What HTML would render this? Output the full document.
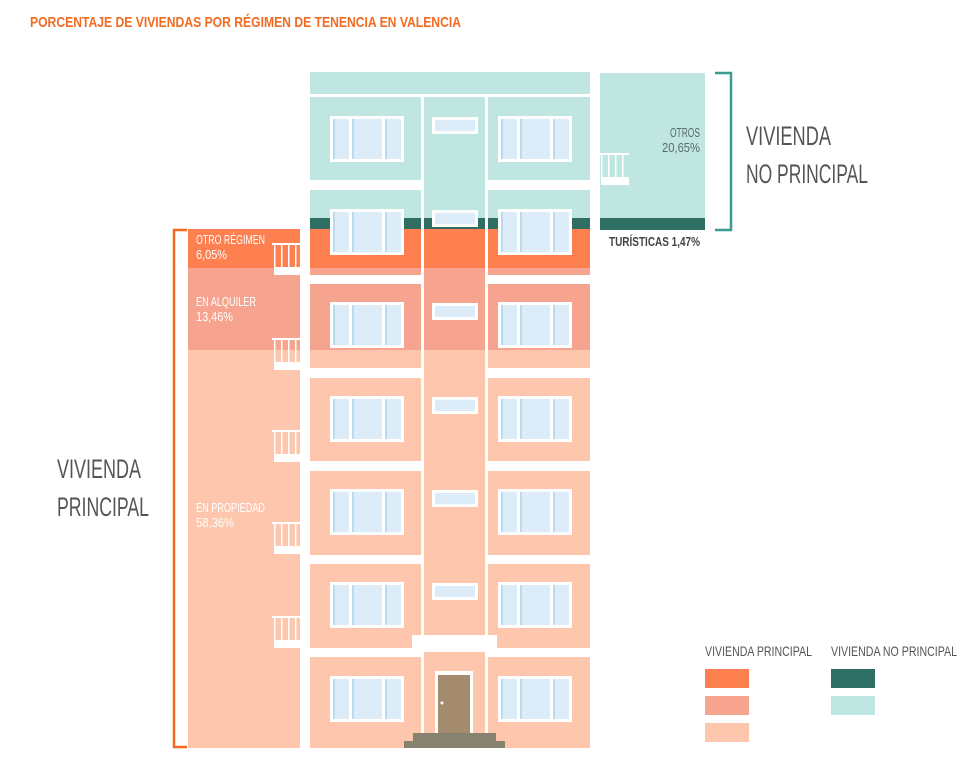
<!DOCTYPE html>
<html><head><meta charset="utf-8"><style>
html,body{margin:0;padding:0;background:#fff;}
svg{display:block}
text{font-family:"Liberation Sans",sans-serif;}
</style></head><body>
<svg width="972" height="770" viewBox="0 0 972 770" xmlns="http://www.w3.org/2000/svg">
<defs>
<g id="win">
  <rect x="0" y="0" width="74" height="46" fill="#fff"/>
  <rect x="3" y="3" width="16" height="40" fill="#dcecf8"/>
  <rect x="22" y="3" width="30" height="40" fill="#dcecf8"/>
  <rect x="55" y="3" width="16" height="40" fill="#dcecf8"/>
  <rect x="22" y="3" width="2" height="40" fill="#b9dbef"/>
  <rect x="3" y="3" width="2" height="40" fill="#b9dbef"/>
  <rect x="55" y="3" width="2" height="40" fill="#b9dbef"/>
</g>
<g id="sw">
  <rect x="0" y="0" width="46" height="17" fill="#fff"/>
  <rect x="3" y="3" width="40" height="11" fill="#dcecf8"/>
</g>
<g id="bal">
  <rect x="0" y="0" width="30" height="2" fill="#fff"/>
  <rect x="2" y="2" width="1.5" height="22" fill="#fff"/>
  <rect x="9" y="2" width="1.5" height="22" fill="#fff"/>
  <rect x="16" y="2" width="1.5" height="22" fill="#fff"/>
  <rect x="23" y="2" width="1.5" height="22" fill="#fff"/>
  <rect x="2" y="24" width="28" height="8" fill="#fff"/>
</g>
</defs>

<text x="30" y="27" font-size="15" font-weight="bold" fill="#f26b21" textLength="431" lengthAdjust="spacingAndGlyphs">PORCENTAJE DE VIVIENDAS POR RÉGIMEN DE TENENCIA EN VALENCIA</text>

<rect x="310" y="72" width="280" height="146" fill="#bfe6e0"/>
<rect x="310" y="218" width="280" height="11" fill="#2e6e63"/>
<rect x="310" y="229" width="280" height="39" fill="#fe7f50"/>
<rect x="310" y="268" width="280" height="82" fill="#f6a48f"/>
<rect x="310" y="350" width="280" height="398" fill="#fdc6ad"/>

<rect x="188" y="229" width="112" height="39" fill="#fe7f50"/>
<rect x="188" y="268" width="112" height="82" fill="#f6a48f"/>
<rect x="188" y="350" width="112" height="398" fill="#fdc6ad"/>

<rect x="600" y="73" width="105" height="145" fill="#bfe6e0"/>
<rect x="600" y="218" width="105" height="12" fill="#2e6e63"/>

<rect x="310" y="94" width="280" height="3" fill="#fff"/>
<g fill="#fff">
  <rect x="310" y="180" width="112" height="10"/><rect x="488" y="180" width="102" height="10"/>
  <rect x="310" y="275" width="112" height="9"/><rect x="488" y="275" width="102" height="9"/>
  <rect x="310" y="368" width="112" height="10"/><rect x="488" y="368" width="102" height="10"/>
  <rect x="310" y="461" width="112" height="10"/><rect x="488" y="461" width="102" height="10"/>
  <rect x="310" y="555" width="112" height="9"/><rect x="488" y="555" width="102" height="9"/>
  <rect x="310" y="648" width="112" height="9"/><rect x="488" y="648" width="102" height="9"/>
  <rect x="421" y="97" width="3" height="651"/>
  <rect x="485" y="97" width="3" height="651"/>
  <rect x="412" y="635" width="85" height="17"/>
  <rect x="412" y="652" width="10" height="5"/><rect x="487" y="652" width="10" height="5"/>
</g>

<g>
  <use href="#win" x="330" y="116"/><use href="#win" x="498" y="116"/><use href="#sw" x="432" y="117"/>
  <use href="#win" x="330" y="209"/><use href="#win" x="498" y="209"/><use href="#sw" x="432" y="210"/>
  <use href="#win" x="330" y="302"/><use href="#win" x="498" y="302"/><use href="#sw" x="432" y="303"/>
  <use href="#win" x="330" y="396"/><use href="#win" x="498" y="396"/><use href="#sw" x="432" y="397"/>
  <use href="#win" x="330" y="489"/><use href="#win" x="498" y="489"/><use href="#sw" x="432" y="490"/>
  <use href="#win" x="330" y="582"/><use href="#win" x="498" y="582"/><use href="#sw" x="432" y="583"/>
  <use href="#win" x="330" y="676"/><use href="#win" x="498" y="676"/>
</g>

<rect x="435" y="671" width="38" height="64" fill="#fff"/>
<rect x="438" y="675" width="32" height="60" fill="#a58b6d"/>
<circle cx="442" cy="703" r="1.5" fill="#fff"/>
<rect x="413" y="733" width="83" height="8" fill="#878170"/>
<rect x="404" y="741" width="101" height="7" fill="#878170"/>

<use href="#bal" x="272" y="243"/>
<use href="#bal" x="272" y="338"/>
<use href="#bal" x="272" y="430"/>
<use href="#bal" x="272" y="522"/>
<use href="#bal" x="272" y="616"/>
<use href="#bal" x="599" y="153"/>

<path d="M187,230 H174 V747 H187" fill="none" stroke="#f26b21" stroke-width="2.5"/>
<path d="M715,73 H731 V230 H715" fill="none" stroke="#3a9c8f" stroke-width="2.5"/>

<g fill="#fff" font-size="12.5">
  <text x="196" y="244" textLength="69" lengthAdjust="spacingAndGlyphs">OTRO RÉGIMEN</text><text x="196" y="259" textLength="31" lengthAdjust="spacingAndGlyphs">6,05%</text>
  <text x="196" y="306" textLength="60" lengthAdjust="spacingAndGlyphs">EN ALQUILER</text><text x="196" y="321" textLength="37" lengthAdjust="spacingAndGlyphs">13,46%</text>
  <text x="196" y="512" textLength="69" lengthAdjust="spacingAndGlyphs">EN PROPIEDAD</text><text x="196" y="527" textLength="38" lengthAdjust="spacingAndGlyphs">58,36%</text>
</g>
<g fill="#5a6a68" font-size="12.5">
  <text x="670" y="137" textLength="30" lengthAdjust="spacingAndGlyphs">OTROS</text><text x="662" y="152" textLength="38" lengthAdjust="spacingAndGlyphs">20,65%</text>
</g>
<text x="609" y="246" font-size="13" font-weight="bold" fill="#444" textLength="91" lengthAdjust="spacingAndGlyphs">TURÍSTICAS 1,47%</text>
<g fill="#555" font-size="27">
  <text x="746" y="145" textLength="85" lengthAdjust="spacingAndGlyphs">VIVIENDA</text><text x="746" y="183" textLength="122" lengthAdjust="spacingAndGlyphs">NO PRINCIPAL</text>
  <text x="57" y="478" textLength="84" lengthAdjust="spacingAndGlyphs">VIVIENDA</text><text x="57" y="516" textLength="92" lengthAdjust="spacingAndGlyphs">PRINCIPAL</text>
</g>

<text x="705" y="656" font-size="14" fill="#555" textLength="107" lengthAdjust="spacingAndGlyphs">VIVIENDA PRINCIPAL</text>
<text x="831" y="656" font-size="14" fill="#555" textLength="126" lengthAdjust="spacingAndGlyphs">VIVIENDA NO PRINCIPAL</text>
<rect x="705" y="669" width="44" height="19" fill="#fe7f50"/>
<rect x="705" y="696" width="44" height="19" fill="#f6a48f"/>
<rect x="705" y="723" width="44" height="19" fill="#fdc6ad"/>
<rect x="831" y="669" width="44" height="19" fill="#2e6e63"/>
<rect x="831" y="696" width="44" height="19" fill="#bfe6e0"/>
</svg>
</body></html>
